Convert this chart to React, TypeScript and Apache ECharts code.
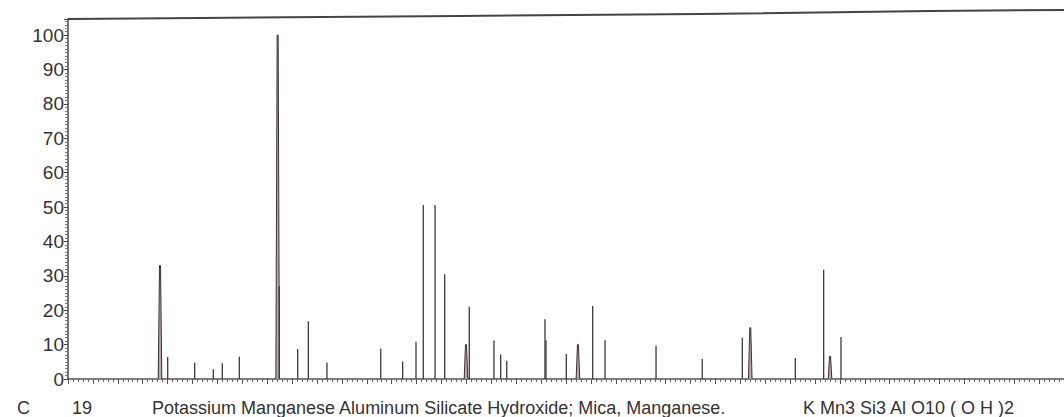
import React, { useEffect, useRef } from "react";
import * as echarts from "echarts";

// Peak positions (arbitrary 2θ-like units, 0–100 across the axis) and relative intensities
const peakPositions = [
  9.24, 10.01, 12.72, 14.59, 15.49, 17.2, 21.05, 21.21, 23.06, 24.13, 26.0,
  31.4, 33.6, 34.94, 35.67, 36.85, 37.82, 39.96, 40.29, 42.77, 43.44, 44.05,
  47.89, 47.99, 50.03, 51.2, 52.68, 53.92, 59.04, 63.68, 67.7, 68.5, 73.02,
  75.87, 76.51, 77.61,
];
const peakIntensities = [
  33, 6.4, 4.7, 2.8, 4.6, 6.5, 100, 27, 8.7, 16.8, 4.8,
  8.9, 5.1, 10.8, 50.6, 50.6, 30.5, 10, 21, 11.2, 7.1, 5.3,
  17.4, 11.3, 7.3, 10, 21.2, 11.3, 9.7, 5.8, 12, 14.9, 6.1,
  31.8, 6.6, 12.2,
];
// peaks drawn with a visible profile rather than a single stick
const broadPeaks = [9.24, 21.05, 39.96, 51.2, 68.5, 76.51];

const yTicks = [0, 10, 20, 30, 40, 50, 60, 70, 80, 90, 100];

const cardNumber = "C";
const cardIndex = "19";
const compoundName = "Potassium Manganese Aluminum Silicate Hydroxide; Mica, Manganese.";
const formula = "K Mn3 Si3 Al O10 ( O H )2";

export default function App() {
  const ref = useRef<HTMLDivElement>(null);
  useEffect(() => {
    if (!ref.current) return;
    const chart = echarts.init(ref.current, undefined, { renderer: "svg" });
    const data = peakPositions.map((x, i) => [
      x,
      peakIntensities[i],
      broadPeaks.includes(x) ? 1 : 0,
    ]);
    const font = "Liberation Sans, Arial, sans-serif";
    chart.setOption({
      animation: false,
      backgroundColor: "#ffffff",
      grid: { left: 68, right: 0, top: 19, bottom: 38 },
      xAxis: {
        type: "value",
        min: 0,
        max: 100,
        interval: 2.5,
        axisLine: { show: true, lineStyle: { color: "#555", width: 1.5 } },
        axisTick: { show: true, length: 5, lineStyle: { color: "#555" } },
        minorTick: { show: true, splitNumber: 5, length: 3, lineStyle: { color: "#666" } },
        axisLabel: { show: false },
        splitLine: { show: false },
      },
      yAxis: {
        type: "value",
        min: 0,
        max: 104.7,
        interval: 10,
        axisLine: { show: true, lineStyle: { color: "#444", width: 1.5 } },
        axisTick: { show: true, length: 4, lineStyle: { color: "#444" } },
        minorTick: { show: true, splitNumber: 10, length: 3, lineStyle: { color: "#777" } },
        axisLabel: {
          showMaxLabel: false,
          color: "#333",
          fontSize: 19,
          fontFamily: font,
          margin: 4,
          formatter: (v: number) => (yTicks.includes(v) ? String(v) : ""),
        },
        splitLine: { show: false },
      },
      series: [
        {
          type: "custom",
          data,
          renderItem: (params: any, api: any) => {
            const x = api.value(0);
            const h = api.value(1);
            const broad = api.value(2);
            const base = api.coord([x, 0]);
            const top = api.coord([x, h]);
            if (broad) {
              return {
                type: "polyline",
                shape: {
                  points: [
                    [base[0] - 1.8, base[1]],
                    [top[0] - 0.5, top[1]],
                    [top[0] + 0.5, top[1]],
                    [base[0] + 1.8, base[1]],
                  ],
                },
                style: { fill: "#b9a9ab", stroke: "#3a3033", lineWidth: 1 },
              };
            }
            return {
              type: "line",
              shape: { x1: base[0], y1: base[1], x2: top[0], y2: top[1] },
              style: { stroke: "#3a3a3a", lineWidth: 1.3 },
            };
          },
        },
      ],
      graphic: [
        {
          type: "polyline",
          shape: { points: [[68, 19], [200, 18], [460, 16], [700, 14], [930, 11], [1064, 10]] },
          style: { stroke: "#444", lineWidth: 2, fill: null },
        },
        {
          type: "text",
          left: 17,
          top: 399,
          style: { text: cardNumber, fill: "#333", font: `18px ${font}` },
        },
        {
          type: "text",
          left: 72,
          top: 399,
          style: { text: cardIndex, fill: "#333", font: `18px ${font}` },
        },
        {
          type: "text",
          left: 152,
          top: 399,
          style: { text: compoundName, fill: "#333", font: `18px ${font}` },
        },
        {
          type: "text",
          left: 803,
          top: 399,
          style: { text: formula, fill: "#333", font: `18px ${font}` },
        },
      ],
    });
    return () => chart.dispose();
  }, []);
  return (
    <div
      ref={ref}
      style={{ position: "fixed", left: 0, top: 0, width: 1064, height: 417 }}
    />
  );
}
